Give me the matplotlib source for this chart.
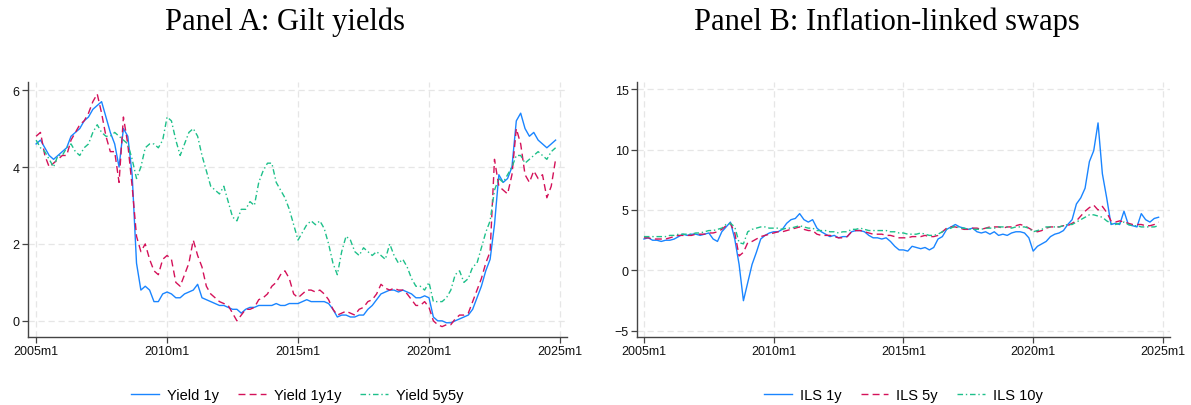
# Two-panel chart: UK gilt yields and inflation-linked swaps, 2005-2024
import numpy as np
import matplotlib
matplotlib.use("Agg")
import matplotlib.pyplot as plt

# ------------------------------------------------------------------ #
#                    DATA (bi-monthly readings)                      #
# ------------------------------------------------------------------ #
# one row per year, six readings per year (Jan, Mar, May, Jul, Sep, Nov)
years = list(range(2005, 2025))

yield_1y = [
    4.6, 4.7, 4.5, 4.3, 4.2, 4.3,
    4.4, 4.5, 4.8, 4.9, 5.0, 5.2,
    5.3, 5.5, 5.6, 5.7, 5.3, 4.9,
    4.6, 4.0, 5.0, 4.8, 3.8, 1.5,
    0.8, 0.9, 0.8, 0.5, 0.5, 0.7,
    0.75, 0.7, 0.6, 0.6, 0.7, 0.75,
    0.8, 0.95, 0.6, 0.55, 0.5, 0.45,
    0.4, 0.4, 0.35, 0.3, 0.3, 0.2,
    0.3, 0.35, 0.35, 0.4, 0.4, 0.4,
    0.4, 0.45, 0.4, 0.4, 0.45, 0.45,
    0.45, 0.5, 0.55, 0.5, 0.5, 0.5,
    0.5, 0.45, 0.3, 0.1, 0.15, 0.15,
    0.1, 0.1, 0.15, 0.15, 0.3, 0.4,
    0.55, 0.7, 0.75, 0.8, 0.8, 0.75,
    0.8, 0.75, 0.7, 0.6, 0.6, 0.65,
    0.6, 0.1, 0.0, 0.0, -0.05, -0.05,
    0.0, 0.05, 0.1, 0.15, 0.3, 0.6,
    0.9, 1.3, 1.6, 2.5, 3.8, 3.6,
    3.7, 4.0, 5.2, 5.4, 5.0, 4.8,
    4.9, 4.7, 4.6, 4.5, 4.6, 4.7,
]

yield_1y1y = [
    4.8, 4.9, 4.3, 4.0, 4.1, 4.2,
    4.3, 4.3, 4.7, 4.9, 5.1, 5.2,
    5.4, 5.7, 5.9, 5.4, 4.8, 4.4,
    4.4, 3.6, 5.3, 4.6, 3.5, 2.2,
    1.8, 2.0, 1.6, 1.3, 1.2, 1.6,
    1.7, 1.6, 1.0, 0.9, 1.2, 1.5,
    2.1, 1.7, 1.4, 0.9, 0.7, 0.6,
    0.5, 0.45, 0.4, 0.2, 0.0, 0.15,
    0.3, 0.3, 0.35, 0.55, 0.6, 0.7,
    0.9, 1.0, 1.2, 1.3, 1.1, 0.7,
    0.6, 0.7, 0.8, 0.8, 0.75, 0.8,
    0.7, 0.55, 0.3, 0.15, 0.2, 0.25,
    0.2, 0.15, 0.3, 0.35, 0.5, 0.55,
    0.7, 0.95, 0.85, 0.8, 0.85, 0.8,
    0.8, 0.7, 0.55, 0.4, 0.4, 0.5,
    0.35, 0.0, -0.1, -0.15, -0.1, -0.1,
    0.05, 0.15, 0.15, 0.2, 0.5, 0.8,
    1.1, 1.5, 1.8, 4.2, 3.5, 3.4,
    3.3, 3.8, 5.0, 4.6, 3.8, 3.6,
    3.9, 3.7, 3.8, 3.2, 3.5, 4.2,
]

yield_5y5y = [
    4.7, 4.5, 4.4, 4.2, 4.0, 4.3,
    4.3, 4.5, 4.6, 4.4, 4.3, 4.5,
    4.6, 4.9, 5.1, 4.9, 4.8, 4.8,
    4.9, 4.8, 4.7, 4.6, 4.2, 3.7,
    4.0, 4.5, 4.6, 4.6, 4.5, 4.7,
    5.3, 5.2, 4.7, 4.3, 4.6, 4.9,
    5.0, 4.8, 4.3, 3.9, 3.5, 3.4,
    3.3, 3.5, 3.1, 2.7, 2.6, 2.9,
    2.9, 3.1, 3.0, 3.6, 3.9, 4.1,
    4.1, 3.6, 3.4, 3.2, 2.9, 2.5,
    2.1, 2.3, 2.5, 2.6, 2.5, 2.6,
    2.4, 2.0, 1.5, 1.2, 1.8, 2.2,
    2.1, 1.8, 1.7, 1.9, 1.8, 1.7,
    1.8, 1.7, 1.6, 2.0, 1.7, 1.5,
    1.6, 1.4, 1.1, 0.9, 0.9, 0.8,
    1.0, 0.5, 0.5, 0.5, 0.6, 0.8,
    1.2, 1.3, 1.0, 1.1, 1.4, 1.5,
    1.9, 2.3, 2.6, 3.4, 3.7, 3.6,
    3.8, 4.0, 4.3, 4.3, 4.1, 4.2,
    4.3, 4.4, 4.3, 4.2, 4.4, 4.5,
]

ils_1y = [
    2.6, 2.7, 2.5, 2.5, 2.4, 2.5,
    2.5, 2.6, 2.8, 3.0, 2.9, 3.0,
    3.0, 2.9, 3.0, 3.1, 2.6, 2.4,
    3.2, 3.6, 4.0, 2.6, 0.5, -2.5,
    -1.0, 0.5, 1.5, 2.6, 2.9, 3.1,
    3.2, 3.2, 3.4, 3.9, 4.2, 4.3,
    4.7, 4.2, 4.0, 4.2, 3.5, 3.2,
    3.0, 2.8, 2.9, 2.7, 2.8, 2.8,
    3.2, 3.3, 3.3, 3.2, 2.9, 2.7,
    2.7, 2.6, 2.7, 2.4, 2.0, 1.7,
    1.7, 1.6, 2.0, 1.9, 1.8, 1.9,
    1.7, 1.9, 2.6, 2.8, 3.4, 3.6,
    3.8, 3.6, 3.5, 3.4, 3.5, 3.2,
    3.1, 3.2, 3.0, 3.2, 2.9, 3.0,
    2.9, 3.1, 3.2, 3.2, 3.1, 2.7,
    1.6, 2.0, 2.2, 2.4, 2.8, 3.0,
    3.1, 3.3, 3.8, 4.2, 5.5, 6.0,
    6.8, 9.0, 9.9, 12.2, 8.0, 6.0,
    3.8, 3.9, 3.8, 4.9, 3.8, 3.7,
    3.6, 4.7, 4.2, 4.0, 4.3, 4.4,
]

ils_5y = [
    2.7, 2.7, 2.6, 2.6, 2.6, 2.6,
    2.7, 2.8, 2.9, 2.9, 2.9, 2.9,
    3.0, 3.0, 3.0, 3.1, 3.1, 3.2,
    3.4, 3.7, 3.9, 3.1, 1.2, 1.5,
    2.3, 2.4, 2.6, 2.8, 2.9, 3.0,
    3.1, 3.2, 3.2, 3.3, 3.4, 3.5,
    3.6, 3.4, 3.3, 3.3, 3.0, 2.9,
    2.9, 2.9, 2.8, 2.7, 2.7, 2.8,
    3.2, 3.3, 3.3, 3.2, 3.1, 3.0,
    3.0, 3.0, 2.9, 2.9, 2.8, 2.7,
    2.7, 2.7, 2.8, 2.8, 2.8, 2.9,
    2.8, 2.8, 2.9, 3.2, 3.5, 3.6,
    3.6, 3.5, 3.4, 3.4, 3.5, 3.5,
    3.4, 3.5, 3.6, 3.6, 3.6, 3.5,
    3.6, 3.6, 3.7, 3.8, 3.7, 3.5,
    3.3, 3.2, 3.3, 3.5, 3.6, 3.6,
    3.6, 3.7, 3.7, 3.9, 4.1, 4.5,
    4.9, 5.2, 5.4, 5.0, 5.3, 4.8,
    4.1, 4.0, 4.1, 4.0, 3.9, 3.8,
    3.8, 3.8, 3.7, 3.7, 3.8, 4.0,
]

ils_10y = [
    2.8, 2.8, 2.8, 2.8, 2.8, 2.8,
    2.9, 2.9, 3.0, 3.0, 3.0, 3.0,
    3.1, 3.1, 3.2, 3.3, 3.3, 3.4,
    3.5, 3.8, 3.9, 3.6, 2.3, 2.2,
    3.2, 3.4, 3.5, 3.6, 3.6, 3.5,
    3.5, 3.5, 3.4, 3.5, 3.5, 3.6,
    3.7, 3.6, 3.5, 3.5, 3.3, 3.3,
    3.3, 3.2, 3.2, 3.1, 3.2, 3.2,
    3.4, 3.4, 3.5, 3.4, 3.3, 3.3,
    3.3, 3.3, 3.3, 3.2, 3.2, 3.1,
    3.1, 3.0, 3.0, 3.0, 3.1, 3.0,
    2.9, 2.9, 3.0, 3.2, 3.4, 3.5,
    3.7, 3.5, 3.5, 3.4, 3.4, 3.4,
    3.4, 3.5, 3.5, 3.5, 3.6, 3.6,
    3.6, 3.5, 3.6, 3.6, 3.6, 3.5,
    3.2, 3.3, 3.4, 3.6, 3.6, 3.6,
    3.6, 3.7, 3.8, 3.8, 4.0, 4.2,
    4.4, 4.6, 4.6, 4.5, 4.4, 4.1,
    3.9, 3.8, 3.9, 4.0, 3.8, 3.7,
    3.7, 3.6, 3.6, 3.6, 3.6, 3.7,
]

tick_years = [2005, 2010, 2015, 2020, 2025]
tick_labels = [f"{y}m1" for y in tick_years]

# time axis in fractional years: Jan, Mar, May, ... of each year
t = np.array([y + m / 12 for y in years for m in range(0, 12, 2)])

# ------------------------------------------------------------------ #
#                              STYLE                                 #
# ------------------------------------------------------------------ #
BLUE = "#1a85ff"
RED = "#d41159"
GREEN = "#1ec08a"

plt.rcParams["font.family"] = ["Liberation Sans", "DejaVu Sans"]

fig = plt.figure(figsize=(11.91, 4.06), dpi=100)
ax_a = fig.add_axes([0.0235, 0.1675, 0.4526, 0.628])
ax_b = fig.add_axes([0.5348, 0.1675, 0.4475, 0.628])


def style_axis(ax, yticks):
    ax.set_xticks(tick_years)
    ax.set_xticklabels(tick_labels)
    ax.set_yticks(yticks)
    ax.grid(True, color="#e6e6e6", linestyle=(0, (5, 3)), linewidth=0.9)
    ax.set_axisbelow(True)
    for side in ("top", "right"):
        ax.spines[side].set_visible(False)
    for side in ("left", "bottom"):
        ax.spines[side].set_color("#444444")
        ax.spines[side].set_linewidth(1.0)
    ax.tick_params(direction="out", length=4, width=0.9, color="#444444",
                   labelsize=9, labelcolor="#111111", pad=2)


# ------------------------------------------------------------------ #
#                       PANEL A: GILT YIELDS                         #
# ------------------------------------------------------------------ #
ax_a.plot(t, yield_1y, color=BLUE, lw=1.0, label="Yield 1y")
ax_a.plot(t, yield_1y1y, color=RED, lw=1.0, linestyle=(0, (5, 3)), label="Yield 1y1y")
ax_a.plot(t, yield_5y5y, color=GREEN, lw=1.0, linestyle=(0, (4, 2, 1, 2)), label="Yield 5y5y")
ax_a.set_xlim(2004.69, 2025.27)
ax_a.set_ylim(-0.42, 6.21)
style_axis(ax_a, [0, 2, 4, 6])

# ------------------------------------------------------------------ #
#                  PANEL B: INFLATION-LINKED SWAPS                   #
# ------------------------------------------------------------------ #
ax_b.plot(t, ils_1y, color=BLUE, lw=1.0, label="ILS 1y")
ax_b.plot(t, ils_5y, color=RED, lw=1.0, linestyle=(0, (5, 3)), label="ILS 5y")
ax_b.plot(t, ils_10y, color=GREEN, lw=1.0, linestyle=(0, (4, 2, 1, 2)), label="ILS 10y")
ax_b.set_xlim(2004.73, 2025.27)
ax_b.set_ylim(-5.5, 15.58)
style_axis(ax_b, [-5, 0, 5, 10, 15])

for ax in (ax_a, ax_b):
    ax.legend(loc="upper center", bbox_to_anchor=(0.5, -0.15), ncol=3,
              frameon=False, fontsize=10.5, handlelength=1.9,
              handletextpad=0.55, columnspacing=1.3)

fig.text(285 / 1191, 1 - 22 / 406, "Panel A: Gilt yields", ha="center", va="center",
         fontsize=22, family="Liberation Serif")
fig.text(887 / 1191, 1 - 22 / 406, "Panel B: Inflation-linked swaps", ha="center",
         va="center", fontsize=22, family="Liberation Serif")

fig.savefig("out.png", dpi=100, facecolor="white")
